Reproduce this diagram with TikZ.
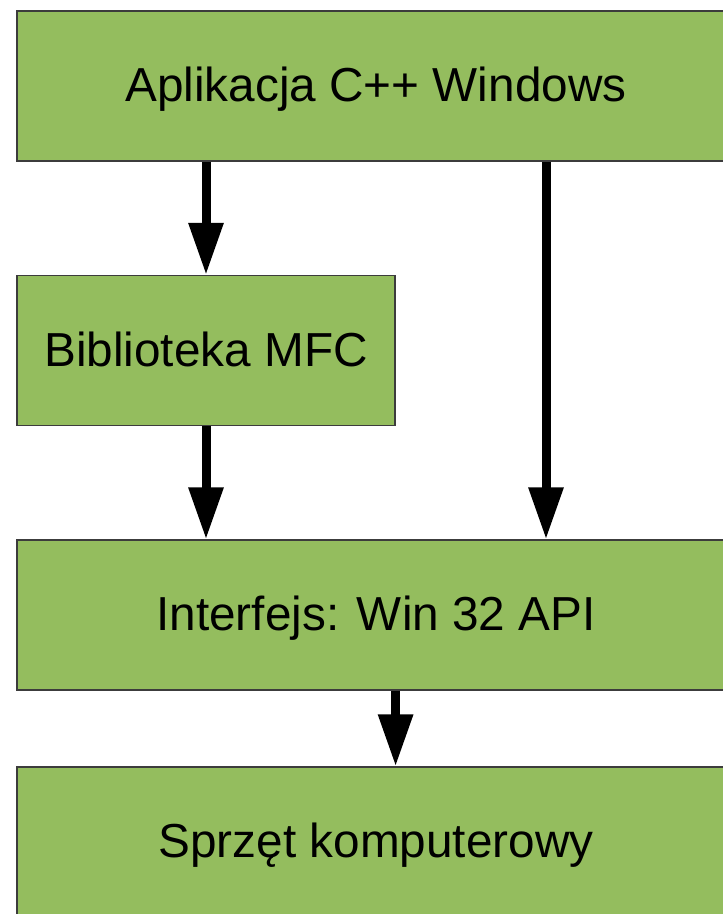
\documentclass[tikz,border=0pt]{standalone}
\usepackage{fontspec}
\setmainfont{Liberation Sans}
\usetikzlibrary{arrows.meta}
\definecolor{boxgreen}{RGB}{148,189,94}
\definecolor{boxline}{RGB}{60,60,60}
\begin{document}
\begin{tikzpicture}[x=1pt,y=1pt,
  box/.style={draw=boxline, line width=1.2pt, fill=boxgreen, rectangle, inner sep=0pt,
    minimum height=150pt, text height=34pt, text depth=3pt,
    font=\fontsize{47.7}{57}\selectfont, text=black},
  arr/.style={line width=9pt, -{Triangle[length=52pt,width=33pt]}}]
\useasboundingbox (0,0) rectangle (723,-914);
\clip (0,0) rectangle (723,-914);
\fill[white] (0,0) rectangle (723,-914);
\node[box, minimum width=718pt] (app) at (376,-86) {Aplikacja C++ Windows};
\node[box, minimum width=378pt] (mfc) at (206,-350.5) {Biblioteka MFC};
\node[box, minimum width=718pt] (api) at (376,-615) {Interfejs: Win 32 API};
\node[box, minimum width=718pt] (hw) at (376,-842) {Sprzęt komputerowy};
\coordinate (r1) at ([xshift=170pt]app.south);
\coordinate (r2) at ([xshift=170pt]api.north);
\draw[arr] (mfc.north |- app.south) -- (mfc.north);
\draw[arr] (r1) -- (r2);
\draw[arr] (mfc.south) -- (mfc.south |- api.north);
\draw[arr] (mfc.east |- api.south) -- (mfc.east |- hw.north);
\end{tikzpicture}
\end{document}
